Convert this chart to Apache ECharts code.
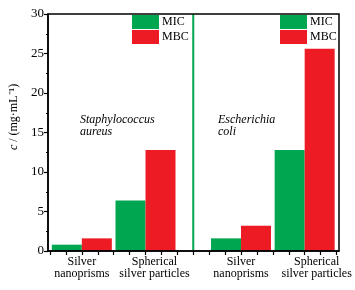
<!DOCTYPE html>
<html><head><meta charset="utf-8">
<script src="https://cdn.jsdelivr.net/npm/echarts@6/dist/echarts.min.js"></script>
<style>html,body{margin:0;padding:0;background:#fff}#c{width:355px;height:290px}</style>
</head><body><div id="c"></div>
<script>
// ---- data ----
const bacteria = ['Staphylococcus\naureus', 'Escherichia\ncoli'];
const particles = ['Silver\nnanoprisms', 'Spherical\nsilver particles'];
const seriesNames = ['MIC', 'MBC'];
const micValues = [[0.8, 6.4], [1.6, 12.8]];   // [bacterium][particle]
const mbcValues = [[1.6, 12.8], [3.2, 25.6]];
const yTicks = [0, 5, 10, 15, 20, 25, 30];
const yName = 'c';
const yUnit = ' / (mg·mL⁻¹)';

// ---- layout helpers ----
const FONT = '"Liberation Serif", "Times New Roman", serif';
const GREEN = '#00a650', RED = '#ed1c24';
const xOf = (b, i) => b * 10 + 2 + 4 * i;   // numeric x of a bar group
const dividerX = 9;
const toData = vals => {
  const out = [];
  vals.forEach((row, b) => row.forEach((v, i) => out.push([xOf(b, i), v])));
  return out;
};

const chart = echarts.init(document.getElementById('c'), null, {renderer: 'canvas'});
const grid = {top: 14, bottom: 39};
const option = {
  backgroundColor: '#fff',
  animation: false,
  grid: [
    {left: 50, right: 18.5, top: grid.top, bottom: grid.bottom},
    {left: 44, right: 16, top: grid.top, bottom: grid.bottom, show: true,
     borderColor: '#000', borderWidth: 1.5, backgroundColor: 'transparent', z: 20}
  ],
  xAxis: [
    {gridIndex: 0, type: 'value', min: 0, max: 18, interval: 1,
     axisLine: {show: false}, axisLabel: {show: false}, splitLine: {show: false},
     axisTick: {show: true, length: 4, lineStyle: {color: '#000', width: 1.2}}},
    {gridIndex: 1, type: 'value', min: 0, max: 1, z: 20,
     axisLine: {show: true, lineStyle: {color: '#000', width: 1.5}},
     axisTick: {show: false}, axisLabel: {show: false}, splitLine: {show: false}}
  ],
  yAxis: [
    {gridIndex: 0, type: 'value', min: yTicks[0], max: yTicks[yTicks.length - 1], show: false},
    {gridIndex: 1, type: 'value', min: yTicks[0], max: yTicks[yTicks.length - 1], z: 20,
     interval: yTicks[1] - yTicks[0],
     axisLine: {show: true, lineStyle: {color: '#000', width: 1.5}},
     axisTick: {show: true, length: 4, lineStyle: {color: '#000', width: 1.2}},
     minorTick: {show: true, splitNumber: 2, length: 2, lineStyle: {color: '#000', width: 1.2}},
     splitLine: {show: false},
     axisLabel: {color: '#000', fontFamily: FONT, fontSize: 13, margin: 4},
     name: '{i|' + yName + '}{n|' + yUnit + '}', nameLocation: 'middle', nameRotate: 90, nameGap: 28,
     nameTextStyle: {padding: [0, 0, 0, 31],
       rich: {i: {fontFamily: FONT, fontStyle: 'italic', fontSize: 12, color: '#000'},
              n: {fontFamily: FONT, fontSize: 12, color: '#000'}}}}
  ],
  legend: [0, 1].map(k => ({
    data: seriesNames, orient: 'vertical', left: k === 0 ? 132 : 280, top: 15,
    itemWidth: 27, itemHeight: 14, itemGap: 1, icon: 'rect', padding: 0,
    textStyle: {fontFamily: FONT, fontSize: 12, color: '#000', padding: [0, 0, 0, -2]}
  })),
  series: [
    {name: seriesNames[0], type: 'bar', xAxisIndex: 0, yAxisIndex: 0, data: toData(micValues),
     barWidth: 30, barGap: '0%', itemStyle: {color: GREEN}},
    {name: seriesNames[1], type: 'bar', xAxisIndex: 0, yAxisIndex: 0, data: toData(mbcValues),
     barWidth: 30, barGap: '0%', itemStyle: {color: RED}}
  ]
};
chart.setOption(option);

// divider and text labels placed through the axis scales
const labelNudge = [0, 9];
const annotLeft = [80, 218];
const graphics = [];
const dx = chart.convertToPixel({xAxisIndex: 0}, dividerX);
const yTop = chart.convertToPixel({yAxisIndex: 0}, yTicks[yTicks.length - 1]);
const yBot = chart.convertToPixel({yAxisIndex: 0}, yTicks[0]);
graphics.push({type: 'line', shape: {x1: dx, y1: yTop, x2: dx, y2: yBot},
  style: {stroke: GREEN, lineWidth: 2}, z: 10});
bacteria.forEach((b, bi) => {
  particles.forEach((p, pi) => {
    const px = chart.convertToPixel({xAxisIndex: 0}, xOf(bi, pi)) + labelNudge[pi] + (bi === 1 && pi === 1 ? 3 : 0);
    graphics.push({type: 'text', x: px, y: 256, style: {text: p, x: 0, y: 0, align: 'center', verticalAlign: 'top',
      font: '12px ' + FONT, lineHeight: 12, fill: '#000'}});
  });
  graphics.push({type: 'text', x: annotLeft[bi], y: 114, style: {text: b, align: 'left', verticalAlign: 'top',
    font: 'italic 12px ' + FONT, lineHeight: 12, fill: '#000'}});
});
chart.setOption({graphic: graphics});
</script></body></html>
